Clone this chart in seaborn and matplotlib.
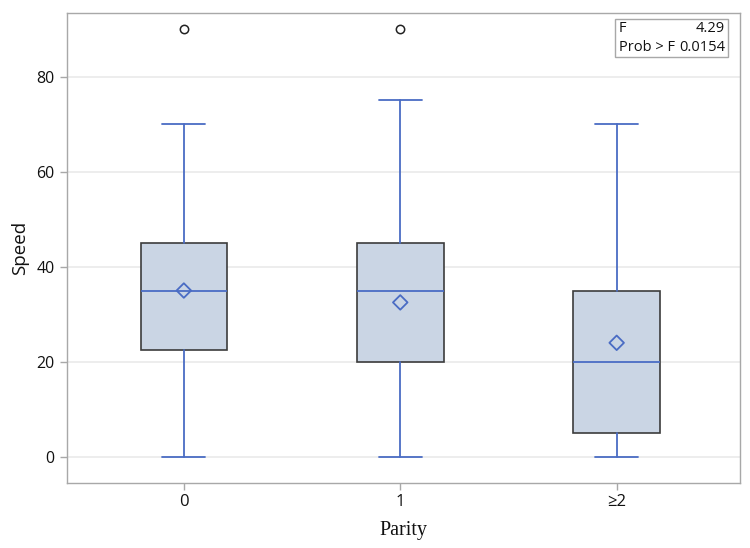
import matplotlib
matplotlib.use("Agg")
import matplotlib.pyplot as plt
from matplotlib.patches import Rectangle
import seaborn as sns
import pandas as pd

# Box statistics
groups = ["0", "1", "≥2"]
mins = [0, 0, 0]
q1s = [22.5, 20, 5]
medians = [35, 35, 20]
q3s = [45, 45, 35]
maxs = [70, 75, 70]
means = [35, 32.5, 24]
outliers = [[90], [90], []]

blue = "#4A6CC4"
fill = "#CAD5E4"
edge = "#3C3C3C"

sns.set_theme(style="white")
plt.rcParams['font.family'] = ['Open Sans', 'DejaVu Sans']

fig = plt.figure(figsize=(7.5, 5.48), dpi=100)
ax = fig.add_axes([0.0893, 0.1186, 0.8974, 0.8577])

stats = []
for i, g in enumerate(groups):
    stats.append(dict(label=g, whislo=mins[i], q1=q1s[i], med=medians[i],
                      q3=q3s[i], whishi=maxs[i], fliers=outliers[i]))

ax.bxp(stats, positions=range(len(groups)), widths=0.4, patch_artist=True,
       showfliers=True, zorder=3,
       boxprops=dict(facecolor=fill, edgecolor=edge, linewidth=1.2),
       medianprops=dict(color=blue, linewidth=1.3),
       whiskerprops=dict(color=blue, linewidth=1.3),
       capprops=dict(color=blue, linewidth=1.3),
       capwidths=0.2,
       flierprops=dict(marker="o", markerfacecolor="none", markeredgecolor="#222222",
                       markersize=6, markeredgewidth=1.1))

mdf = pd.DataFrame({"pos": range(len(groups)), "mean": means})
sns.scatterplot(data=mdf, x="pos", y="mean", marker="D", s=55, facecolor="none",
                edgecolor=blue, linewidth=1.3, ax=ax, zorder=4)

ax.set_xlim(-0.54, 2.57)
ax.set_ylim(-5.5, 93.4)
ax.set_xticks(range(len(groups)))
ax.set_xticklabels(groups)
ax.set_yticks([0, 20, 40, 60, 80])
ax.yaxis.grid(True, color="#E8E8E8", linewidth=1.1, zorder=0)
ax.set_axisbelow(True)

for s in ax.spines.values():
    s.set_color("#A8A8A8")
    s.set_linewidth(1.0)

ax.tick_params(axis="both", which="both", direction="out", length=5, width=1,
               color="#A8A8A8", labelcolor="#111111", bottom=True, left=True)
ax.tick_params(axis="y", labelsize=11.5, pad=4)
ax.tick_params(axis="x", labelsize=12, pad=3)
for lab in ax.get_yticklabels() + ax.get_xticklabels():
    lab.set_fontweight("medium")
ax.set_ylabel("Speed", fontsize=13.5, color="#111111", labelpad=5)
ax.set_xlabel("Parity", fontsize=14.5, family=["Liberation Serif"], color="#111111", labelpad=8)

# Stats inset
ax.add_patch(Rectangle((0.814, 0.906), 0.168, 0.081, transform=ax.transAxes,
                       facecolor="white", edgecolor="#A8A8A8", linewidth=1.0, zorder=6))
ax.text(0.820, 0.982, "F\nProb > F", transform=ax.transAxes, ha="left", va="top",
        fontsize=10.5, linespacing=1.3, color="#111111", zorder=7)
ax.text(0.978, 0.982, "4.29\n0.0154", transform=ax.transAxes, ha="right", va="top",
        fontsize=10.5, linespacing=1.3, color="#111111", zorder=7)

fig.savefig("out.png", dpi=100)
